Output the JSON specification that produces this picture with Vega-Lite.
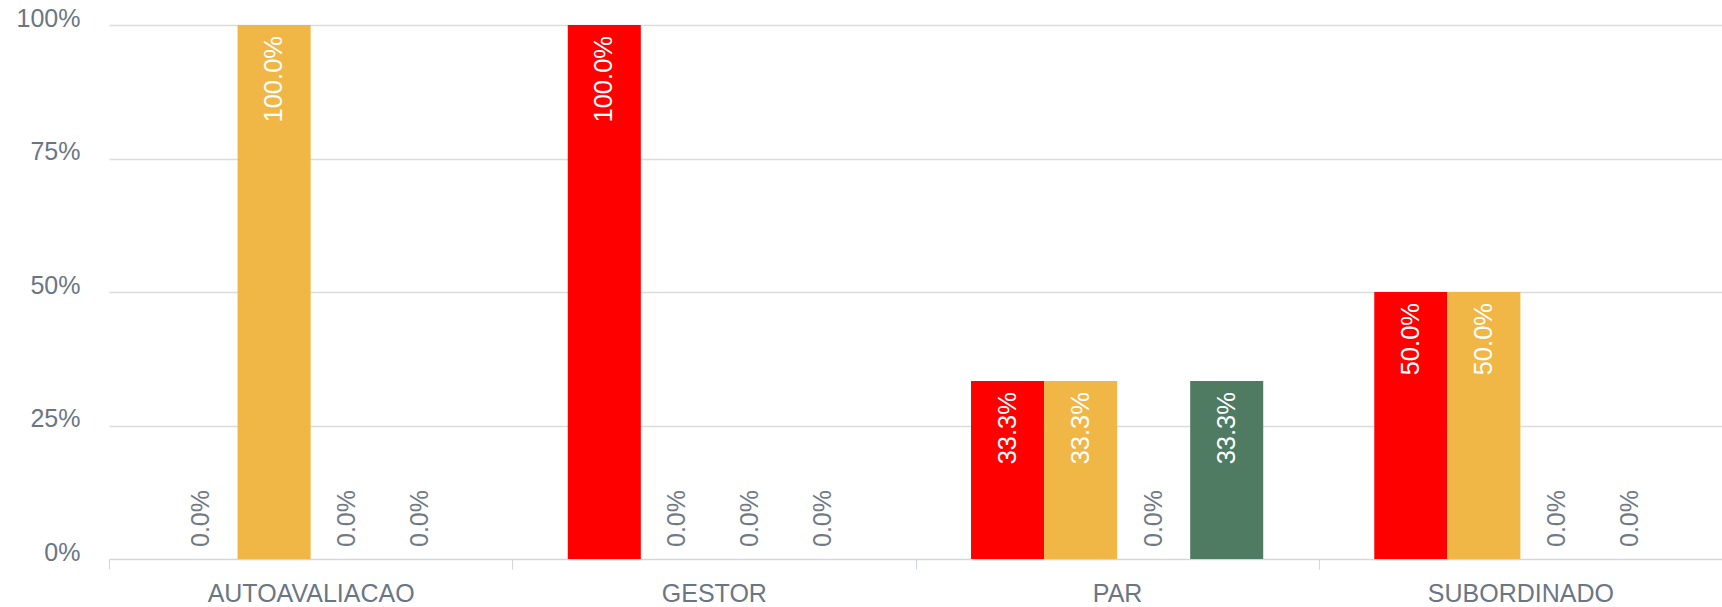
{
  "$schema": "https://vega.github.io/schema/vega-lite/v6.json",
  "autosize": {"type": "none"},
  "padding": {"left": 109, "top": 25, "right": 0, "bottom": 48},
  "width": 1613,
  "height": 534,
  "background": "white",
  "config": {"view": {"stroke": null}, "font": "Liberation Sans"},
  "data": {"values": [
    {"grupo": "AUTOAVALIACAO", "serie": "Abaixo", "valor": 0},
    {"grupo": "AUTOAVALIACAO", "serie": "Parcial", "valor": 1},
    {"grupo": "AUTOAVALIACAO", "serie": "Atende", "valor": 0},
    {"grupo": "AUTOAVALIACAO", "serie": "Supera", "valor": 0},
    {"grupo": "GESTOR", "serie": "Abaixo", "valor": 1},
    {"grupo": "GESTOR", "serie": "Parcial", "valor": 0},
    {"grupo": "GESTOR", "serie": "Atende", "valor": 0},
    {"grupo": "GESTOR", "serie": "Supera", "valor": 0},
    {"grupo": "PAR", "serie": "Abaixo", "valor": 0.3333},
    {"grupo": "PAR", "serie": "Parcial", "valor": 0.3333},
    {"grupo": "PAR", "serie": "Atende", "valor": 0},
    {"grupo": "PAR", "serie": "Supera", "valor": 0.3333},
    {"grupo": "SUBORDINADO", "serie": "Abaixo", "valor": 0.5},
    {"grupo": "SUBORDINADO", "serie": "Parcial", "valor": 0.5},
    {"grupo": "SUBORDINADO", "serie": "Atende", "valor": 0},
    {"grupo": "SUBORDINADO", "serie": "Supera", "valor": 0}
  ]},
  "encoding": {
    "x": {
      "field": "grupo", "type": "nominal",
      "scale": {"paddingInner": 0, "paddingOuter": 0},
      "axis": {
        "title": null, "labelAngle": 0, "labelFontSize": 25, "labelColor": "#6b7684",
        "labelFont": "Liberation Sans", "labelLimit": 0,
        "tickBand": "extent", "tickSize": 10, "tickColor": "#ccd6eb", "tickWidth": 1,
        "domainColor": "#d6d6d6", "domainWidth": 1, "labelPadding": 12, "labelBaseline": "top",
        "grid": false
      }
    },
    "xOffset": {
      "field": "serie", "type": "nominal",
      "scale": {"domain": ["Abaixo", "Parcial", "Atende", "Supera"], "paddingInner": 0, "paddingOuter": 0.76}
    },
    "y": {
      "field": "valor", "type": "quantitative",
      "scale": {"domain": [0, 1], "nice": false},
      "axis": {
        "title": null, "values": [0, 0.25, 0.5, 0.75, 1], "format": ".0%",
        "labelFontSize": 25, "labelColor": "#6b7684", "labelFont": "Liberation Sans",
        "domain": false, "ticks": false, "labelPadding": 29,
        "labelBaseline": "alphabetic", "labelOffset": 1,
        "gridColor": "#dcdcdc", "gridWidth": 1.5
      }
    }
  },
  "layer": [
    {
      "mark": {"type": "bar"},
      "encoding": {
        "color": {
          "field": "serie", "type": "nominal", "legend": null,
          "scale": {"domain": ["Abaixo", "Parcial", "Atende", "Supera"], "range": ["#ff0000", "#f0b646", "#c9d64a", "#4e7b62"]}
        }
      }
    },
    {
      "transform": [{"filter": "datum.valor > 0"}],
      "mark": {"type": "text", "angle": 270, "align": "right", "baseline": "middle", "dx": -11, "fontSize": 25.5, "color": "#ffffff", "font": "Liberation Sans"},
      "encoding": {"text": {"field": "valor", "type": "quantitative", "format": ".1%"}}
    },
    {
      "transform": [{"filter": "datum.valor == 0"}],
      "mark": {"type": "text", "angle": 270, "align": "left", "baseline": "middle", "dx": 12, "fontSize": 25, "color": "#707a85", "font": "Liberation Sans"},
      "encoding": {"text": {"field": "valor", "type": "quantitative", "format": ".1%"}}
    }
  ]
}
